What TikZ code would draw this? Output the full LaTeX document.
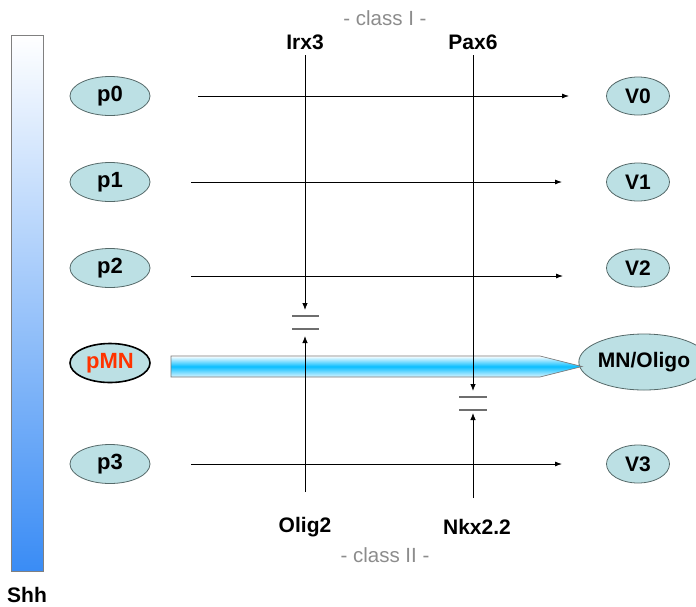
\documentclass[tikz,border=0pt]{standalone}
\usepackage{fontspec}
\setmainfont{Liberation Sans}
\usetikzlibrary{arrows.meta,shapes.geometric}
\definecolor{cellfill}{RGB}{188,224,228}
\definecolor{celldraw}{RGB}{85,105,105}
\definecolor{shhblue}{RGB}{58,140,245}
\definecolor{tubecyan}{RGB}{10,190,255}
\definecolor{tubeedge}{RGB}{120,120,120}
\definecolor{labelgray}{RGB}{140,140,140}
\definecolor{pmnred}{RGB}{255,51,0}
\definecolor{bargray}{RGB}{110,110,110}
\begin{document}
\begin{tikzpicture}[x=1pt,y=-1pt,
  cell/.style={ellipse, draw=celldraw, fill=cellfill, line width=0.8pt,
    minimum width=80pt, minimum height=39pt, inner sep=0pt,
    font=\fontsize{22}{25}\selectfont\bfseries},
  fate/.style={cell, minimum width=63pt, minimum height=38pt,
    font=\fontsize{21}{24}\selectfont\bfseries},
  gene/.style={font=\fontsize{21}{24}\selectfont\bfseries, inner sep=1pt},
  classlbl/.style={font=\fontsize{20.5}{24}\selectfont, text=labelgray, inner sep=1pt},
  flow/.style={line width=0.8pt, -{Latex[length=7pt,width=5pt]}},
  repress/.style={line width=0.8pt, -{Latex[length=7pt,width=5.5pt]}},
  block/.style={line width=1.3pt, draw=bargray}
]
\useasboundingbox (0,0) rectangle (696,606);

% Shh gradient bar
\node[rectangle, draw=gray, line width=0.8pt, top color=white, bottom color=shhblue,
  minimum width=32pt, minimum height=536pt, inner sep=0pt] (shhbar) at (27,303) {};
\node[gene] (shh) at (27,595) {Shh};

% progenitor domains
\node[cell] (p0) at (110,96) {p0};
\node[cell] (p1) at (110,182) {p1};
\node[cell] (p2) at (110,268) {p2};
\node[cell, draw=black, line width=1.6pt, text=pmnred] (pMN) at (110,363) {pMN};
\node[cell] (p3) at (110,464) {p3};

% neuronal fates
\node[fate] (V0) at (638,96) {V0};
\node[fate] (V1) at (638,182) {V1};
\node[fate] (V2) at (638,268) {V2};
\node[fate, minimum width=100pt, minimum height=56pt] (MN) at (644,362) {MN/Oligo};
\node[fate] (V3) at (638,464) {V3};

% horizontal fate arrows
\coordinate (a0s) at (198,96);  \coordinate (a0e) at (569,96);
\coordinate (a1s) at (191,182); \coordinate (a1e) at (562,182);
\coordinate (a2s) at (191,276); \coordinate (a2e) at (563,276);
\coordinate (a3s) at (191,464); \coordinate (a3e) at (562,464);
\draw[flow] (a0s) -- (a0e);
\draw[flow] (a1s) -- (a1e);
\draw[flow] (a2s) -- (a2e);
\draw[flow] (a3s) -- (a3e);

% highlighted pMN -> MN/Oligo tube arrow
\coordinate (tubeS) at (171,366.5);
\coordinate (tubeT) at (582,366.5);
\path[draw=tubeedge, line width=0.7pt, top color=white, bottom color=white!85!tubecyan,
  middle color=tubecyan]
  (171,356) -- (540,356) -- (tubeT) -- (540,377) -- (171,377) -- cycle;

% class I and class II factors
\node[classlbl] (cls1) at (385,18) {- class I -};
\node[gene] (irx) at (305,42) {Irx3};
\node[gene] (pax) at (473,42) {Pax6};
\node[gene] (olig) at (305,527) {Olig2};
\node[gene] (nkx) at (477,527) {Nkx2.2};
\node[classlbl] (cls2) at (385,555) {- class II -};

% cross-repression
\coordinate (irxTop) at (305,55);   \coordinate (irxTip) at (305,310);
\coordinate (oligBot) at (305,492); \coordinate (oligTip) at (305,336);
\coordinate (paxTop) at (473,55);   \coordinate (paxTip) at (473,391);
\coordinate (nkxBot) at (473,498);  \coordinate (nkxTip) at (473,413);
\draw[repress] (irxTop) -- (irxTip);
\draw[repress] (oligBot) -- (oligTip);
\draw[repress] (paxTop) -- (paxTip);
\draw[repress] (nkxBot) -- (nkxTip);

\coordinate (b1l) at (292,316); \coordinate (b1r) at (319,316);
\coordinate (b2l) at (292,329); \coordinate (b2r) at (319,329);
\coordinate (b3l) at (459,397); \coordinate (b3r) at (487,397);
\coordinate (b4l) at (459,410); \coordinate (b4r) at (487,410);
\draw[block] (b1l) -- (b1r);
\draw[block] (b2l) -- (b2r);
\draw[block] (b3l) -- (b3r);
\draw[block] (b4l) -- (b4r);
\end{tikzpicture}
\end{document}
